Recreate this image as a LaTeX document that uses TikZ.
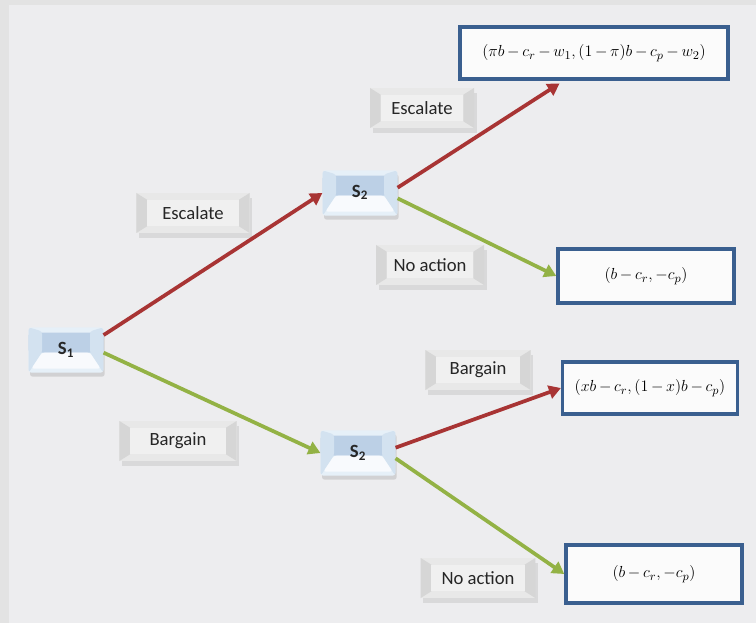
\documentclass[tikz,border=0pt]{standalone}
\usepackage{fontspec}
\setmainfont{Carlito}
\usetikzlibrary{shadows,arrows.meta}
\newcommand\payofftext[1]{$\medmuskip=3mu\relax #1$}
\definecolor{bg}{HTML}{EDEDEF}
\definecolor{redarr}{HTML}{A83434}
\definecolor{greenarr}{HTML}{93B245}
\definecolor{boxblue}{HTML}{3A5F8F}
\definecolor{snodelight}{HTML}{E6F0F8}
\definecolor{snodeband}{HTML}{BCD0E6}
\definecolor{snodeside}{HTML}{D3E2F0}
\definecolor{lblfill}{HTML}{E8E8E8}
\definecolor{lbledge}{HTML}{D6D6D6}
\tikzset{
  payoff/.style={draw=boxblue, line width=2.6pt, fill=white!97!gray, minimum width=#1, inner sep=2pt,
    font=\fontsize{13}{15}\selectfont},
  snode/.style={minimum width=56pt, minimum height=34pt, fill=snodelight, rounded corners=2pt,
    drop shadow={opacity=0.25, shadow xshift=1pt, shadow yshift=-3pt},
    path picture={
      \fill[snodeband] ([yshift=-4pt]path picture bounding box.north west) rectangle ([yshift=15pt]path picture bounding box.south east);
      \fill[snodeside] (path picture bounding box.north west) -- ([xshift=10pt,yshift=-3pt]path picture bounding box.north west) -- ([xshift=10pt,yshift=15pt]path picture bounding box.south west) -- ([xshift=2pt,yshift=3pt]path picture bounding box.south west) -- (path picture bounding box.south west) -- cycle;
      \fill[snodeside] (path picture bounding box.north east) -- ([xshift=-10pt,yshift=-3pt]path picture bounding box.north east) -- ([xshift=-10pt,yshift=15pt]path picture bounding box.south east) -- ([xshift=-2pt,yshift=3pt]path picture bounding box.south east) -- (path picture bounding box.south east) -- cycle;
      \fill[white!70!snodelight] ([xshift=10pt,yshift=15pt]path picture bounding box.south west) -- ([xshift=-10pt,yshift=15pt]path picture bounding box.south east) -- ([xshift=-2pt,yshift=3pt]path picture bounding box.south east) -- ([xshift=2pt,yshift=3pt]path picture bounding box.south west) -- cycle;
    },
    font=\bfseries\fontsize{14}{16}\selectfont, text=black!85},
  lbl/.style={minimum width=80pt, minimum height=30pt, fill=lblfill,
    drop shadow={opacity=0.18, shadow xshift=2pt, shadow yshift=-4pt},
    path picture={
      \fill[lbledge] (path picture bounding box.north west) -- ([xshift=8pt,yshift=-5pt]path picture bounding box.north west) -- ([xshift=8pt,yshift=5pt]path picture bounding box.south west) -- (path picture bounding box.south west) -- cycle;
      \fill[lbledge] (path picture bounding box.north east) -- ([xshift=-8pt,yshift=-5pt]path picture bounding box.north east) -- ([xshift=-8pt,yshift=5pt]path picture bounding box.south east) -- (path picture bounding box.south east) -- cycle;
      \fill[white!35!lblfill] ([xshift=8pt,yshift=-5pt]path picture bounding box.north west) rectangle ([xshift=-8pt,yshift=5pt]path picture bounding box.south east);
    },
    font=\fontsize{14}{16}\selectfont, text=black!85},
  redline/.style={draw=redarr, line width=2.8pt, -{Triangle[length=9pt,width=10pt]}},
  greenline/.style={draw=greenarr, line width=2.8pt, -{Triangle[length=9pt,width=10pt]}}
}
\begin{document}
\begin{tikzpicture}[x=0.75pt,y=-0.75pt]
\useasboundingbox (0,0) rectangle (756,623);
\fill[bg] (0,0) rectangle (756,623);
\fill[gray!22] (0,0) rectangle (9,623);
\fill[gray!22] (0,0) rectangle (756,5);

% payoff boxes
\node[payoff=201pt, minimum height=39pt] (p1) at (594,53) {\payofftext{(\pi b - c_r - w_1, (1-\pi)b - c_p - w_2)}};
\node[payoff=132pt, minimum height=40.5pt] (p2) at (646,276) {\payofftext{(b - c_r, -c_p)}};
\node[payoff=131pt, minimum height=39pt] (p3) at (650,388) {\payofftext{(xb - c_r, (1-x)b - c_p)}};
\node[payoff=132pt, minimum height=43.5pt] (p4) at (654,574) {\payofftext{(b - c_r, -c_p)}};

% decision nodes
\node[snode] (s1) at (66,350) {\raisebox{3pt}{S$_{\mathbf 1}$}};
\node[snode] (s2a) at (360,193) {\raisebox{3pt}{S$_{\mathbf 2}$}};
\node[snode] (s2b) at (358,453) {\raisebox{3pt}{S$_{\mathbf 2}$}};

% action labels
\node[lbl, minimum width=78pt] (la) at (422,108) {Escalate};
\node[lbl, minimum width=85pt] (lb) at (193,213) {Escalate};
\node[lbl, minimum width=81pt] (lc) at (430,265) {No action};
\node[lbl, minimum width=79pt] (ld) at (478,370) {Bargain};
\node[lbl, minimum width=88pt] (le) at (178,441) {Bargain};
\node[lbl, minimum width=86pt] (lf) at (478,578) {No action};

% connectors
\draw[redline] ([yshift=-6pt]s1.north east) -- (s2a.west);
\draw[greenline] ([yshift=-2pt]s1.east) -- (s2b.west);
\draw[redline] ([yshift=4pt]s2a.east) -- ([xshift=76pt,yshift=-2pt]p1.south west);
\draw[greenline] ([yshift=-4pt]s2a.east) -- (p2.west);
\draw[redline] ([yshift=4pt]s2b.east) -- (p3.west);
\draw[greenline] ([yshift=-4pt]s2b.east) -- (p4.west);
\end{tikzpicture}
\end{document}
